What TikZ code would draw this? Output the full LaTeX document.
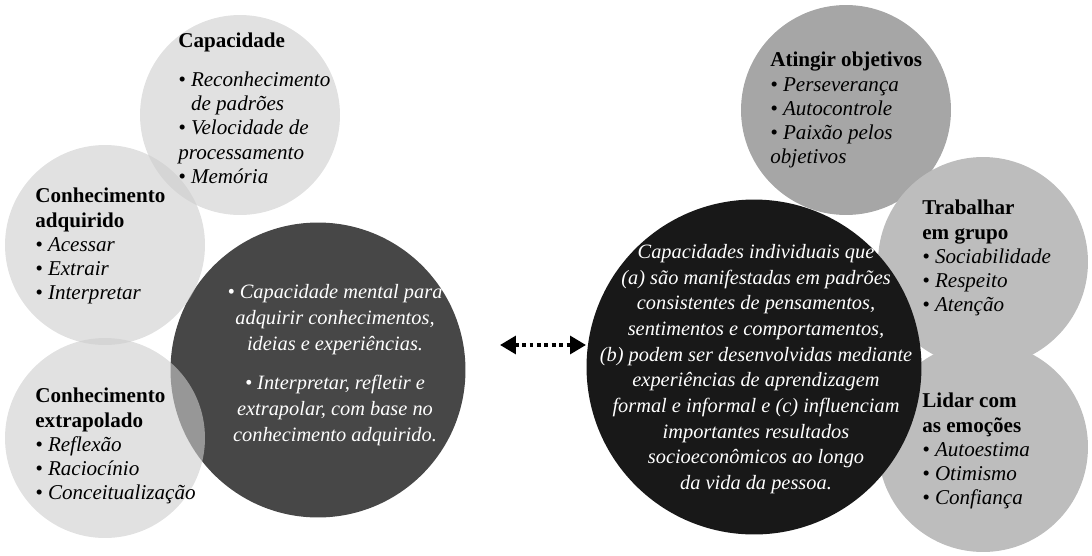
\documentclass[tikz,border=0pt]{standalone}
\usepackage{fontspec}
\setmainfont{Liberation Serif}
\usetikzlibrary{arrows.meta}
\definecolor{light}{HTML}{CDCDCD}
\definecolor{mid}{HTML}{BDBDBD}
\definecolor{dark}{HTML}{474747}
\definecolor{black2}{HTML}{181818}
\tikzset{
  bub/.style={circle, fill=light, fill opacity=0.6, minimum size=#1},
  rbub/.style={circle, fill=mid, minimum size=#1},
  txt/.style={anchor=north west, align=left, font=\fontsize{12}{13.8}\selectfont\itshape, inner sep=0pt},
  ctxt/.style={align=center, text=white, font=\fontsize{11.6}{14.6}\selectfont\itshape, inner sep=0pt}
}
\begin{document}
\begin{tikzpicture}[x=0.02cm,y=-0.02cm]
\useasboundingbox (0,0) rectangle (1092,555);
% left side
\node (big) [circle, fill=dark, minimum size=5.9cm] at (318,370) {};
\node (cap) [bub=4cm] at (240,115) {};
\node (adq) [bub=4cm] at (105,245) {};
\node (ext) [bub=4cm] at (105,438) {};
% right side
\node (ati) [circle, fill=mid!88!black, minimum size=4.2cm] at (846,110) {};
\node (gru) [rbub=4.2cm] at (983,262) {};
\node (emo) [rbub=4.2cm] at (983,447) {};
\node (ind) [circle, fill=black2, minimum size=6.7cm] at (754,367) {};
% texts
\node (capt) [txt] at (178,33) {\textbf{\upshape Capacidade}\\[8pt]• Reconhecimento\\\phantom{• }de padrões\\• Velocidade de\\processamento\\• Memória};
\node (adqt) [txt] at (35,188) {\textbf{\upshape Conhecimento}\\\textbf{\upshape adquirido}\\• Acessar\\• Extrair\\• Interpretar};
\node (extt) [txt] at (35,388) {\textbf{\upshape Conhecimento}\\\textbf{\upshape extrapolado}\\• Reflexão\\• Raciocínio\\• Conceitualização};
\node (bigt) [ctxt] at (335,365) {• Capacidade mental para\\adquirir conhecimentos,\\ideias e experiências.\\[8pt]• Interpretar, refletir e\\extrapolar, com base no\\conhecimento adquirido.};
\node (indt) [ctxt] at (756,369) {Capacidades individuais que\\(a) são manifestadas em padrões\\consistentes de pensamentos,\\sentimentos e comportamentos,\\(b) podem ser desenvolvidas mediante\\experiências de aprendizagem\\formal e informal e (c) influenciam\\importantes resultados\\socioeconômicos ao longo\\da vida da pessoa.};
\node (atit) [txt] at (770,52) {\textbf{\upshape Atingir objetivos}\\• Perseverança\\• Autocontrole\\• Paixão pelos\\objetivos};
\node (grut) [txt] at (922,200) {\textbf{\upshape Trabalhar}\\\textbf{\upshape em grupo}\\• Sociabilidade\\• Respeito\\• Atenção};
\node (emot) [txt] at (922,393) {\textbf{\upshape Lidar com}\\\textbf{\upshape as emoções}\\• Autoestima\\• Otimismo\\• Confiança};
% connector
\coordinate (l) at (500,345);
\coordinate (r) at (586,345);
\draw [black, line width=2.2pt, dotted, {Triangle[length=9pt,width=10pt]}-{Triangle[length=9pt,width=10pt]}] (l) -- (r);
\end{tikzpicture}
\end{document}
